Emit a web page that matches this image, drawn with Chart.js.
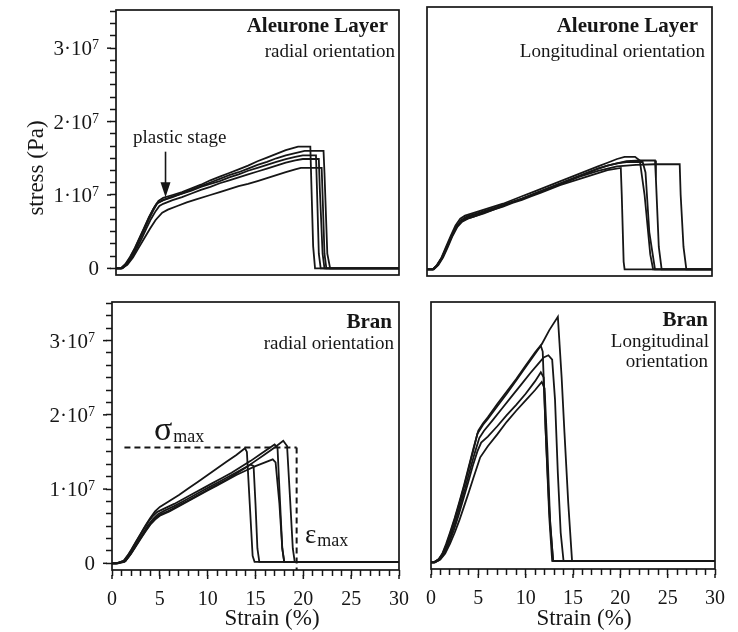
<!DOCTYPE html>
<html><head><meta charset="utf-8">
<script src="https://cdn.jsdelivr.net/npm/chart.js@4/dist/chart.umd.min.js"></script>
<style>
html,body{margin:0;padding:0;background:#fff;}
#wrap{position:relative;width:738px;height:632px;overflow:hidden;background:#fff;}
canvas{position:absolute;left:0;top:0;}
</style></head><body>
<div id="wrap">
<canvas id="cTL" width="738" height="632"></canvas>
<canvas id="cTR" width="738" height="632"></canvas>
<canvas id="cBL" width="738" height="632"></canvas>
<canvas id="cBR" width="738" height="632"></canvas>
</div>
<script>
// ---------- DATA (strain in %, stress in units of 10^7 Pa) ----------
// Aleurone layer, radial orientation
const alRad1 = [[0,0],[0.5,0],[1,0.05],[1.5,0.15],[2,0.27],[2.5,0.41],[3,0.55],[3.5,0.69],[4,0.82],[4.5,0.92],[5,0.96],[6,1.00],[7,1.04],[8,1.09],[9,1.14],[10,1.20],[11,1.25],[12,1.30],[13,1.35],[14,1.40],[15,1.46],[16,1.51],[17,1.56],[18,1.61],[19.3,1.66],[20.6,1.66],[20.7,1.2],[20.9,0.3],[21.1,0],[30,0]];
const alRad2 = [[0,0],[0.6,0],[1,0.04],[1.5,0.13],[2,0.25],[2.5,0.39],[3,0.53],[3.5,0.67],[4,0.80],[4.4,0.89],[5,0.93],[6,0.97],[7,1.02],[8,1.07],[9,1.12],[10,1.17],[11,1.22],[12,1.27],[13,1.31],[14,1.36],[15,1.41],[16,1.45],[17,1.50],[18,1.54],[19,1.57],[20,1.60],[22.0,1.60],[22.1,1.3],[22.4,0.2],[22.7,0],[30,0]];
const alRad3 = [[0,0],[0.5,0],[1,0.06],[1.5,0.16],[2,0.28],[2.5,0.42],[3,0.56],[3.5,0.70],[4,0.82],[4.3,0.88],[5,0.93],[6,0.98],[7,1.02],[8,1.06],[9,1.11],[10,1.15],[11,1.19],[12,1.24],[13,1.28],[14,1.33],[15,1.37],[16,1.41],[17,1.45],[18,1.49],[19,1.52],[19.8,1.54],[21.2,1.54],[21.3,1.1],[21.5,0.2],[21.7,0],[30,0]];
const alRad4 = [[0,0],[0.7,0],[1.2,0.06],[1.7,0.15],[2.2,0.27],[2.7,0.40],[3.2,0.54],[3.7,0.67],[4.2,0.78],[4.6,0.85],[5,0.88],[6,0.93],[7,0.97],[8,1.02],[9,1.07],[10,1.11],[11,1.16],[12,1.20],[13,1.24],[14,1.28],[15,1.32],[16,1.36],[17,1.40],[18,1.44],[19,1.47],[19.8,1.49],[21.5,1.49],[21.6,1.1],[21.9,0.2],[22.1,0],[30,0]];
const alRad5 = [[0,0],[0.6,0],[1.2,0.05],[1.8,0.15],[2.4,0.28],[3,0.41],[3.6,0.54],[4.2,0.66],[4.9,0.76],[5.5,0.80],[6.5,0.85],[7.5,0.90],[8.5,0.94],[10,1.00],[11,1.04],[12,1.08],[13,1.12],[14,1.15],[15,1.19],[16,1.23],[17,1.27],[18,1.31],[19,1.35],[19.6,1.37],[21.8,1.37],[21.9,1.0],[22.1,0.2],[22.3,0],[30,0]];

// Aleurone layer, longitudinal orientation
const alLong1 = [[0,0],[0.6,0],[1,0.05],[1.5,0.15],[2,0.30],[2.5,0.45],[3,0.59],[3.5,0.68],[4,0.72],[5,0.76],[6,0.80],[7,0.84],[8,0.88],[9,0.93],[10,0.98],[11,1.03],[12,1.08],[13,1.13],[14,1.18],[15,1.23],[16,1.28],[17,1.33],[18,1.38],[19,1.43],[20,1.48],[20.8,1.51],[21.9,1.51],[22.4,1.46],[22.9,1.0],[23.5,0.2],[23.8,0],[30,0]];
const alLong2 = [[0,0],[0.7,0],[1.1,0.05],[1.6,0.15],[2.1,0.29],[2.6,0.44],[3.1,0.57],[3.6,0.66],[4.2,0.71],[5,0.74],[6,0.78],[7,0.82],[8,0.86],[9,0.91],[10,0.95],[11,1.00],[12,1.05],[13,1.10],[14,1.15],[15,1.20],[16,1.25],[17,1.30],[18,1.35],[19,1.39],[20,1.42],[21,1.45],[22.5,1.46],[24.0,1.46],[24.1,1.2],[24.4,0.3],[24.7,0],[30,0]];
const alLong3 = [[0,0],[0.6,0],[1.1,0.06],[1.6,0.16],[2.1,0.30],[2.6,0.45],[3.1,0.58],[3.7,0.66],[4.3,0.70],[5,0.73],[6,0.77],[7,0.81],[8,0.86],[9,0.90],[10,0.95],[11,1.00],[12,1.05],[13,1.10],[14,1.15],[15,1.20],[16,1.25],[17,1.30],[18,1.35],[19,1.39],[20,1.42],[21,1.44],[22.7,1.44],[23.0,1.3],[23.4,0.5],[24.0,0],[30,0]];
const alLong4 = [[0,0],[0.6,0],[1.1,0.06],[1.6,0.17],[2.1,0.31],[2.6,0.46],[3.1,0.58],[3.6,0.64],[4.2,0.68],[5,0.71],[6,0.75],[7,0.80],[8,0.84],[9,0.89],[10,0.93],[11,0.98],[12,1.03],[13,1.08],[14,1.13],[15,1.17],[16,1.21],[17,1.25],[18,1.29],[19,1.33],[20.4,1.36],[20.5,1.0],[20.7,0.1],[20.8,0],[30,0]];
const alLong5 = [[0,0],[0.7,0],[1.2,0.06],[1.7,0.16],[2.2,0.30],[2.7,0.45],[3.2,0.57],[3.7,0.64],[4.3,0.68],[5,0.71],[6,0.76],[7,0.80],[8,0.85],[9,0.90],[10,0.94],[11,0.99],[12,1.04],[13,1.09],[14,1.14],[15,1.19],[16,1.24],[17,1.28],[18,1.32],[19,1.35],[20,1.38],[21,1.39],[22,1.40],[24,1.41],[26.6,1.41],[26.7,1.0],[27.0,0.3],[27.3,0],[30,0]];

// Bran, radial orientation
const branRad1 = [[0,0],[0.4,0],[1.2,0.03],[1.6,0.10],[2,0.18],[2.5,0.29],[3,0.40],[3.5,0.51],[4,0.61],[4.5,0.70],[5,0.76],[6,0.84],[7,0.92],[8,1.01],[9,1.10],[10,1.19],[11,1.28],[12,1.37],[13,1.46],[13.9,1.55],[14.1,1.50],[14.4,0.8],[14.7,0.1],[14.9,0.02],[30,0.02]];
const branRad2 = [[0,0],[0.6,0],[1.3,0.02],[1.8,0.10],[2.3,0.20],[2.8,0.31],[3.3,0.42],[3.8,0.52],[4.3,0.60],[4.8,0.66],[5.5,0.71],[6.5,0.77],[7.5,0.84],[8.5,0.91],[9.5,0.98],[10.5,1.05],[11.5,1.12],[12.5,1.19],[13.5,1.26],[14.5,1.33],[14.8,1.31],[15.0,0.8],[15.2,0.2],[15.4,0.02],[30,0.02]];
const branRad3 = [[0,0],[0.5,0],[1.4,0.03],[2,0.13],[2.5,0.23],[3,0.33],[3.5,0.43],[4,0.52],[4.5,0.59],[5,0.64],[6,0.70],[7,0.77],[8,0.84],[9,0.91],[10,0.98],[11,1.05],[12,1.12],[13,1.19],[14,1.25],[15,1.31],[16,1.36],[16.8,1.40],[17.1,1.36],[17.5,0.8],[17.8,0.2],[18.0,0.02],[30,0.02]];
const branRad4 = [[0,0],[0.5,0],[1.3,0.04],[1.8,0.13],[2.3,0.24],[2.8,0.35],[3.3,0.46],[3.8,0.56],[4.3,0.64],[4.7,0.69],[5.5,0.74],[6.5,0.80],[7.5,0.87],[8.5,0.94],[9.5,1.01],[10.5,1.08],[11.5,1.15],[12.5,1.22],[13.5,1.30],[14.5,1.38],[15.5,1.47],[16.3,1.54],[17.0,1.60],[17.3,1.56],[17.5,1.0],[17.8,0.2],[18.0,0.02],[30,0.02]];
const branRad5 = [[0,0],[0.6,0],[1.4,0.03],[2,0.14],[2.5,0.24],[3,0.34],[3.5,0.44],[4,0.53],[4.5,0.61],[5.1,0.66],[6,0.71],[7,0.78],[8,0.85],[9,0.92],[10,0.99],[11,1.06],[12,1.13],[13,1.21],[14,1.29],[15,1.38],[16,1.47],[17,1.56],[17.9,1.65],[18.3,1.58],[18.6,0.9],[18.9,0.2],[19.1,0.02],[30,0.02]];
const sigmaMaxLine = [[1.3,1.56],[19.3,1.56]];
const epsMaxLine = [[19.3,1.56],[19.3,-0.09]];

// Bran, longitudinal orientation
const branLong1 = [[0,0],[0.3,0],[0.8,0.04],[1.2,0.12],[1.6,0.25],[2,0.40],[2.5,0.60],[3,0.82],[3.5,1.05],[4,1.30],[4.5,1.55],[5,1.78],[5.5,1.88],[6,1.96],[7,2.14],[8,2.31],[9,2.48],[10,2.66],[11,2.84],[11.7,2.95],[12.5,3.14],[13.4,3.32],[13.8,2.5],[14.1,1.75],[14.5,0.8],[14.9,0.02],[30,0.02]];
const branLong2 = [[0,0],[0.3,0],[0.8,0.04],[1.2,0.11],[1.6,0.23],[2,0.38],[2.5,0.58],[3,0.80],[3.5,1.03],[4,1.28],[4.5,1.53],[4.9,1.74],[5.5,1.86],[6,1.94],[7,2.11],[8,2.28],[9,2.46],[10,2.64],[11,2.82],[11.6,2.93],[11.8,2.85],[12.1,1.8],[12.5,0.7],[12.9,0.02],[30,0.02]];
const branLong3 = [[0,0],[0.4,0],[0.9,0.04],[1.3,0.11],[1.7,0.23],[2.1,0.37],[2.6,0.56],[3.1,0.78],[3.6,1.00],[4.1,1.24],[4.6,1.47],[5.1,1.68],[5.6,1.78],[6.5,1.92],[7.5,2.08],[8.5,2.24],[9.5,2.40],[10.5,2.56],[11.3,2.68],[11.9,2.77],[12.4,2.80],[12.8,2.74],[13.1,2.2],[13.4,1.2],[13.7,0.4],[14.0,0.02],[30,0.02]];
const branLong4 = [[0,0],[0.4,0],[0.9,0.03],[1.4,0.12],[1.9,0.26],[2.4,0.43],[2.9,0.63],[3.4,0.85],[3.9,1.07],[4.4,1.30],[4.9,1.50],[5.3,1.62],[6,1.70],[7,1.84],[8,1.99],[9,2.13],[10,2.28],[11,2.45],[11.6,2.57],[11.9,2.50],[12.2,1.5],[12.5,0.6],[12.8,0.02],[30,0.02]];
const branLong5 = [[0,0],[0.4,0],[1,0.04],[1.5,0.12],[2,0.25],[2.5,0.40],[3,0.57],[3.5,0.76],[4,0.95],[4.5,1.15],[5.2,1.42],[6,1.57],[7,1.73],[8,1.90],[9,2.05],[10,2.19],[11,2.33],[11.7,2.44],[12.0,2.35],[12.3,1.5],[12.6,0.5],[12.9,0.02],[30,0.02]];

// annotation arrow "plastic stage": tail and tip in data units
const plasticArrow = [[5.25,1.59],[5.25,0.97]];

// ticks
const yMajorValues = [0,1,2,3];
const yMajorBase = ['0','1·10','2·10','3·10'];
const yMajorExp = ['','7','7','7'];
const yMinorPerMajor = 6;
const yTickTop = 3.5;
const xMajorValues = [0,5,10,15,20,25,30];
const xMajorLabels = ['0','5','10','15','20','25','30'];
const xMinorStep = 1;
const X_MIN = 0, X_MAX = 30, Y_MIN = -0.09, Y_MAX = 3.52;

// ---------- STYLE ----------
const SERIF = "'Liberation Serif','Times New Roman',serif";
const INK = '#161616';
const W = 738, H = 632;

function toXY(arr){ return arr.map(p => ({x:p[0], y:p[1]})); }
function curve(arr){ return {data: toXY(arr), borderColor: INK, borderWidth: 1.8, pointRadius: 0, fill:false, tension:0}; }
function dashed(arr){ return {data: toXY(arr), borderColor: INK, borderWidth: 2, borderDash:[6,4], pointRadius: 0, fill:false, tension:0}; }

function txt(ctx, s, x, y, size, align, bold){
  ctx.save();
  ctx.font = (bold ? 'bold ' : '') + size + 'px ' + SERIF;
  ctx.fillStyle = INK; ctx.textAlign = align || 'left'; ctx.textBaseline = 'alphabetic';
  ctx.fillText(s, x, y);
  const w = ctx.measureText(s).width;
  ctx.restore();
  return w;
}
function measure(ctx, s, size){
  ctx.save(); ctx.font = size + 'px ' + SERIF; const w = ctx.measureText(s).width; ctx.restore(); return w;
}

function makePanel(id, area, datasets, showX, showY, annotate){
  const yTicks = [];
  for (let i = 0; i <= yTickTop * yMinorPerMajor; i++) yTicks.push({value: i / yMinorPerMajor});
  const xTicks = [];
  for (let v = X_MIN; v <= X_MAX + 1e-9; v += xMinorStep) xTicks.push({value: v});
  const framePlugin = {
    id: 'frame' + id,
    afterDraw(chart){
      const ctx = chart.ctx, ca = chart.chartArea;
      const xs = chart.scales.x, ys = chart.scales.y;
      ctx.save();
      ctx.strokeStyle = INK; ctx.lineWidth = 1.7;
      ctx.strokeRect(ca.left, ca.top, ca.right - ca.left, ca.bottom - ca.top);
      ctx.lineWidth = 1.5;
      if (showY) {
        yMajorValues.forEach((v, i) => {
          const py = ys.getPixelForValue(v);
          ctx.beginPath(); ctx.moveTo(ca.left - 9, py); ctx.lineTo(ca.left - 5, py); ctx.stroke();
          // tick label with raised exponent
          const right = ca.left - 17;
          const ew = yMajorExp[i] ? measure(ctx, yMajorExp[i], 14) : 0;
          txt(ctx, yMajorBase[i], right - ew, py + 7, 21, 'right');
          if (yMajorExp[i]) txt(ctx, yMajorExp[i], right - ew, py + 1, 14, 'left');
        });
      }
      if (showX) {
        xMajorValues.forEach(v => { const px = xs.getPixelForValue(v); ctx.beginPath(); ctx.moveTo(px, ca.bottom + 5); ctx.lineTo(px, ca.bottom + 9); ctx.stroke(); });
      }
      ctx.restore();
      if (annotate) annotate(chart, ctx, xs, ys);
    }
  };
  return new Chart(document.getElementById(id), {
    type: 'line',
    data: {datasets},
    options: {
      responsive: false, animation: false, devicePixelRatio: 1,
      events: [],
      layout: {autoPadding: false, padding: {left: showY ? 0 : area.l, top: area.t, right: W - area.r, bottom: showX ? 0 : H - area.b}},
      plugins: {legend: {display:false}, tooltip: {enabled:false}, title:{display:false}},
      scales: {
        x: {
          type: 'linear', min: X_MIN, max: X_MAX, display: showX,
          afterBuildTicks: s => { s.ticks = xTicks.map(t => ({value: t.value})); },
          afterFit: s => { if (showX) s.height = H - area.b; },
          grid: {drawOnChartArea:false, drawTicks:true, tickLength:6, tickWidth:1.5, tickColor: INK},
          border: {display:false},
          ticks: {
            autoSkip:false, maxRotation:0, minRotation:0, padding: 12, color: INK,
            font: {family: SERIF, size: 20},
            callback: v => { const i = xMajorValues.findIndex(m => Math.abs(m - v) < 1e-6); return i >= 0 ? xMajorLabels[i] : ''; }
          }
        },
        y: {
          type: 'linear', min: Y_MIN, max: Y_MAX, display: showY,
          afterBuildTicks: s => { s.ticks = yTicks.map(t => ({value: t.value})); },
          afterFit: s => { if (showY) s.width = area.l; },
          grid: {drawOnChartArea:false, drawTicks:true, tickLength:6, tickWidth:1.5, tickColor: INK},
          border: {display:false},
          ticks: {display: false, autoSkip:false}
        }
      }
    },
    plugins: [framePlugin]
  });
}

// Top-left: Aleurone Layer, radial
makePanel('cTL', {l:116, t:10, r:399, b:275},
  [alRad1, alRad2, alRad3, alRad4, alRad5].map(curve), false, true,
  (chart, ctx, xs, ys) => {
    txt(ctx, 'Aleurone Layer', 388, 32, 21, 'right', true);
    txt(ctx, 'radial orientation', 395, 57, 19, 'right');
    txt(ctx, 'plastic stage', 133, 143, 19, 'left');
    const ax = xs.getPixelForValue(plasticArrow[0][0]);
    const ay0 = ys.getPixelForValue(plasticArrow[0][1]);
    const ay1 = ys.getPixelForValue(plasticArrow[1][1]);
    ctx.save(); ctx.strokeStyle = INK; ctx.fillStyle = INK; ctx.lineWidth = 1.6;
    ctx.beginPath(); ctx.moveTo(ax, ay0); ctx.lineTo(ax, ay1 - 12); ctx.stroke();
    ctx.beginPath(); ctx.moveTo(ax - 5, ay1 - 15); ctx.lineTo(ax + 5, ay1 - 15); ctx.lineTo(ax, ay1); ctx.closePath(); ctx.fill();
    ctx.restore();
    ctx.save(); ctx.translate(43, 168); ctx.rotate(-Math.PI/2);
    ctx.font = '23px ' + SERIF; ctx.fillStyle = INK; ctx.textAlign = 'center'; ctx.textBaseline = 'alphabetic';
    ctx.fillText('stress (Pa)', 0, 0); ctx.restore();
  });

// Top-right: Aleurone Layer, longitudinal
makePanel('cTR', {l:427, t:7, r:712, b:276},
  [alLong1, alLong2, alLong3, alLong4, alLong5].map(curve), false, false,
  (chart, ctx) => {
    txt(ctx, 'Aleurone Layer', 698, 32, 21, 'right', true);
    txt(ctx, 'Longitudinal orientation', 705, 57, 19, 'right');
  });

// Bottom-left: Bran, radial
makePanel('cBL', {l:112, t:302, r:399, b:570},
  [...[branRad1, branRad2, branRad3, branRad4, branRad5].map(curve), dashed(sigmaMaxLine), dashed(epsMaxLine)], true, true,
  (chart, ctx) => {
    txt(ctx, 'Bran', 392, 328, 21, 'right', true);
    txt(ctx, 'radial orientation', 394, 349, 19, 'right');
    const w1 = txt(ctx, 'σ', 154, 440, 34, 'left');
    txt(ctx, 'max', 154 + w1 + 1, 442, 18, 'left');
    const w2 = txt(ctx, 'ε', 305, 543, 27, 'left');
    txt(ctx, 'max', 305 + w2 + 1, 546, 18, 'left');
    txt(ctx, 'Strain (%)', 272, 625, 23, 'center');
  });

// Bottom-right: Bran, longitudinal
makePanel('cBR', {l:431, t:302, r:715, b:569},
  [branLong1, branLong2, branLong3, branLong4, branLong5].map(curve), true, false,
  (chart, ctx) => {
    txt(ctx, 'Bran', 708, 326, 21, 'right', true);
    txt(ctx, 'Longitudinal', 709, 347, 19, 'right');
    txt(ctx, 'orientation', 708, 367, 19, 'right');
    txt(ctx, 'Strain (%)', 584, 625, 23, 'center');
  });
</script>
</body></html>
